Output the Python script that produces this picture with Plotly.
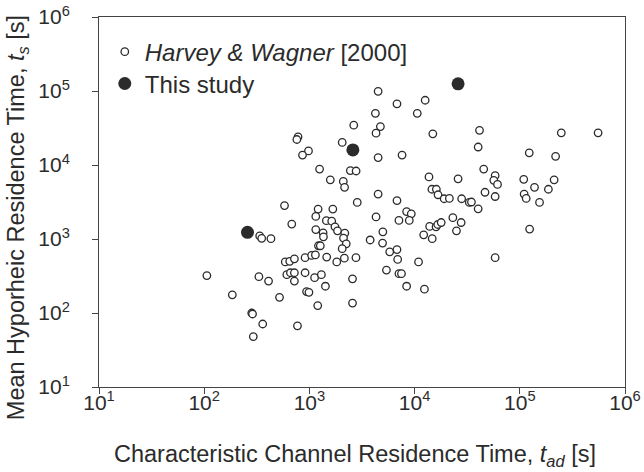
import plotly.graph_objects as go

# Harvey & Wagner [2000] data: channel residence time t_ad [s], hyporheic residence time t_s [s]
hw_tad = [4.5e3, 6.8e3, 1.26e4, 4.24e3, 1.06e4, 2.64e3, 4.73e3, 4.30e3, 1.49e4, 2.05e3,
          4.5e3, 7.6e3, 2.45e3, 2.78e3, 1.58e3, 2.10e3, 2.16e3, 1.37e4, 2.59e4, 1.46e4,
          1.61e4, 1.67e4, 1.91e4, 2.14e4, 2.80e4, 3.31e4, 4.02e4, 4.5e3, 6.8e3, 2.85e3,
          4.67e4, 5.83e4, 4.14e4, 2.48e5, 5.55e5, 4.02e4, 1.23e5, 2.19e5, 4.54e4, 5.83e4,
          5.66e4, 6.14e4, 1.09e5, 2.12e5, 1.38e5, 1.87e5, 1.10e5, 1.15e5, 1.54e5, 3.47e4,
          1.24e5, 7.8e2, 7.6e2, 9.8e2, 8.6e2, 1.25e3, 5.8e2, 1.21e3, 1.67e3, 1.15e3,
          1.45e3, 1.63e3, 1.75e3, 1.85e3, 2.17e3, 2.11e3, 2.24e3, 2.05e3, 6.8e2, 1.15e3,
          1.35e3, 1.36e3, 3.37e2, 3.52e2, 4.31e2, 1.22e3, 1.27e3, 2.15e3, 1.82e3, 1.46e3,
          2.77e3, 5.9e2, 6.5e2, 7.2e2, 9.1e2, 1.05e3, 1.14e3, 1.06e2, 3.31e2, 4.09e2,
          6.1e2, 6.6e2, 7.2e2, 7.2e2, 9.1e2, 1.12e3, 1.30e3, 1.42e3, 2.57e3, 1.85e2,
          5.2e2, 9.4e2, 9.9e2, 1.20e3, 2.57e3, 2.83e2, 2.88e2, 3.6e2, 7.7e2, 2.93e2,
          4.30e3, 7.1e3, 8.4e3, 9.3e3, 8.9e3, 4.99e3, 3.78e3, 4.96e3, 5.8e3, 6.8e3,
          6.9e3, 5.4e3, 7.1e3, 7.5e3, 8.4e3, 1.09e4, 1.24e4, 1.22e4, 1.47e4, 1.39e4,
          1.60e4, 1.66e4, 1.79e4, 2.31e4, 2.77e4, 2.50e4, 5.83e4]
hw_ts = [9.9e4, 6.7e4, 7.5e4, 5.0e4, 5.0e4, 3.45e4, 3.31e4, 2.69e4, 2.64e4, 2.02e4,
         1.26e4, 1.36e4, 8.4e3, 8.3e3, 6.3e3, 6.0e3, 5.0e3, 6.9e3, 6.5e3, 4.7e3,
         4.7e3, 3.96e3, 3.5e3, 3.53e3, 3.5e3, 3.12e3, 2.56e3, 4.05e3, 3.31e3, 3.12e3,
         4.28e3, 3.75e3, 2.94e4, 2.72e4, 2.72e4, 1.75e4, 1.46e4, 1.31e4, 8.8e3, 7.2e3,
         6.2e3, 5.46e3, 6.4e3, 6.3e3, 5.0e3, 4.7e3, 4.05e3, 3.53e3, 3.12e3, 3.16e3,
         1.36e3, 2.40e4, 2.21e4, 1.55e4, 1.36e4, 8.8e3, 2.83e3, 2.54e3, 2.54e3, 2.02e3,
         1.77e3, 1.74e3, 1.46e3, 1.29e3, 1.20e3, 1.03e3, 8.6e2, 7.4e2, 1.59e3, 1.34e3,
         1.21e3, 1.07e3, 1.10e3, 1.02e3, 1.01e3, 8.1e2, 8.1e2, 5.5e2, 4.9e2, 5.7e2,
         5.6e2, 4.9e2, 5.0e2, 5.4e2, 5.6e2, 6.0e2, 6.1e2, 3.2e2, 3.1e2, 2.7e2,
         3.3e2, 3.5e2, 3.5e2, 2.7e2, 3.5e2, 3.0e2, 3.3e2, 2.3e2, 2.9e2, 1.76e2,
         1.63e2, 1.95e2, 1.90e2, 1.26e2, 1.36e2, 1.0e2, 97, 71, 67, 48,
         1.99e3, 1.78e3, 2.35e3, 2.19e3, 1.78e3, 1.25e3, 9.7e2, 8.8e2, 6.7e2, 7.2e2,
         5.3e2, 3.8e2, 3.4e2, 3.4e2, 2.3e2, 4.9e2, 2.1e2, 1.14e3, 1.01e3, 1.48e3,
         1.46e3, 1.57e3, 1.67e3, 1.94e3, 1.67e3, 1.29e3, 5.6e2]

# This study
st_tad = [2.59e4, 2.59e3, 2.58e2]
st_ts = [1.25e5, 1.60e4, 1.23e3]

tick_vals = [1e1, 1e2, 1e3, 1e4, 1e5, 1e6]
tick_text = ["10<sup>1</sup>", "10<sup>2</sup>", "10<sup>3</sup>",
             "10<sup>4</sup>", "10<sup>5</sup>", "10<sup>6</sup>"]

x_title = "Characteristic Channel Residence Time, <i>t</i><sub><i>ad</i></sub> [s]"
y_title = "Mean Hyporheic Residence Time, <i>t</i><sub><i>s</i></sub> [s]"

ink = "#2b2b2b"
FONT = "Liberation Sans, Arial, Helvetica, sans-serif"

fig = go.Figure()
fig.add_trace(go.Scatter(
    x=hw_tad, y=hw_ts, mode="markers",
    name="<i>Harvey &amp; Wagner</i> [2000]", legend="legend",
    marker=dict(symbol="circle", size=7.5, color="white",
                line=dict(color=ink, width=1.3)),
))
fig.add_trace(go.Scatter(
    x=st_tad, y=st_ts, mode="markers",
    name="This study", legend="legend2",
    marker=dict(symbol="circle", size=13, color=ink,
                line=dict(color=ink, width=0)),
))

axis_common = dict(
    type="log", automargin=False,
    tickvals=tick_vals, ticktext=tick_text,
    showgrid=False, zeroline=False,
    showline=True, linecolor="#444444", linewidth=1, mirror=True,
    ticks="outside", ticklen=6, tickcolor="#444444", tickwidth=1,
    tickfont=dict(family=FONT, size=21, color=ink),
    range=[1, 6],
)

legend_common = dict(xanchor="left", yanchor="top",
                     bgcolor="rgba(0,0,0,0)", borderwidth=0,
                     font=dict(family=FONT, size=24, color=ink),
                     itemsizing="trace")

fig.update_layout(
    width=644, height=472,
    margin=dict(l=99, r=19, t=17, b=85, autoexpand=False),
    paper_bgcolor="white", plot_bgcolor="white",
    font=dict(family=FONT, color=ink),
    showlegend=True,
    legend=dict(legend_common, x=0.011, y=0.966),
    legend2=dict(legend_common, x=0.011, y=0.88),
    xaxis=dict(axis_common, ticklabelstandoff=-9),
    yaxis=dict(axis_common, ticklabelstandoff=18),
    annotations=[
        dict(text=x_title, xref="paper", yref="paper", x=0.486, y=-0.184,
             xanchor="center", yanchor="middle", showarrow=False,
             font=dict(family=FONT, size=23.5, color=ink)),
        dict(text=y_title, xref="paper", yref="paper", x=-0.155, y=0.4575,
             xanchor="center", yanchor="middle", showarrow=False, textangle=-90,
             font=dict(family=FONT, size=23.5, color=ink)),
    ],
)

# remove the browser's default 8 px body margin so the figure fills the window
fig.write_html("out.html",
               config={"displayModeBar": False},
               post_script="document.body.style.margin='0';document.body.style.overflow='hidden';")
